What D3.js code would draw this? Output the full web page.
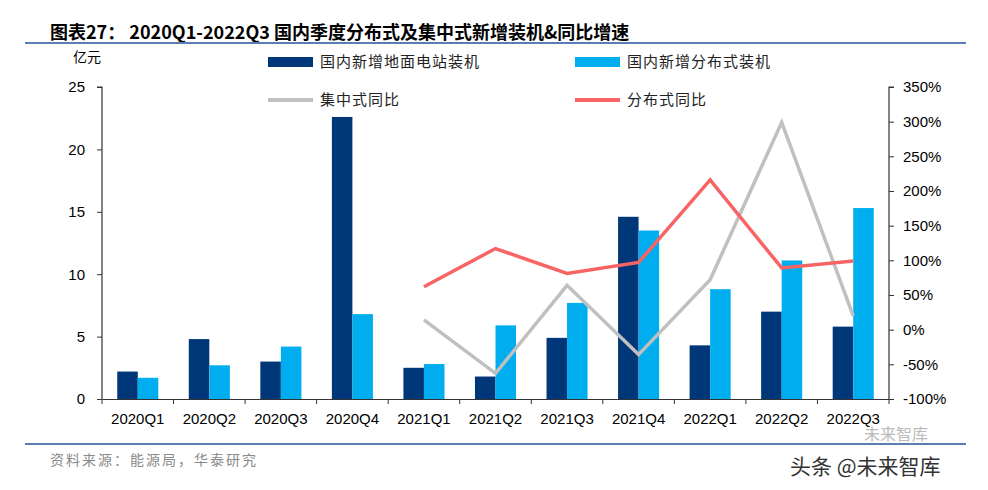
<!DOCTYPE html>
<html>
<head>
<meta charset="utf-8">
<script src="https://cdn.jsdelivr.net/npm/d3@7"></script>
<style>
  body { margin: 0; background: #fff; }
  svg { display: block; }
  text { font-family: "Liberation Sans", Arial, "Noto Sans CJK SC", sans-serif; }
  .cn { font-family: "Noto Sans CJK SC", sans-serif; }
</style>
</head>
<body>
<div id="chart"></div>
<script>
// data
const quarters = ["2020Q1", "2020Q2", "2020Q3", "2020Q4", "2021Q1", "2021Q2",
  "2021Q3", "2021Q4", "2022Q1", "2022Q2", "2022Q3"];
const groundNew = [2.2, 4.8, 3.0, 22.6, 2.5, 1.8, 4.9, 14.6, 4.3, 7.0, 5.8];
const distNew = [1.7, 2.7, 4.2, 6.8, 2.8, 5.9, 7.7, 13.5, 8.8, 11.1, 15.3];
// yoy only from 2021Q1 on
const lineQuarters = ["2021Q1", "2021Q2", "2021Q3", "2021Q4", "2022Q1", "2022Q2", "2022Q3"];
const centralYoy = [14, -63, 64, -36, 72, 299, 20];
const distYoy = [62, 117, 81, 97, 216, 89, 99];
const leftTicks = [0, 5, 10, 15, 20, 25];
const rightTicks = [-100, -50, 0, 50, 100, 150, 200, 250, 300, 350];

const width = 988, height = 490;
const margin = { top: 87, right: 99, bottom: 91, left: 102 };

const svg = d3.select("#chart").append("svg")
  .attr("width", width)
  .attr("height", height);

// title + rules
svg.append("text")
  .attr("x", 50).attr("y", 39)
  .attr("font-size", 18).attr("font-weight", "bold")
  .attr("class", "cn")
  .text("图表27：  2020Q1-2022Q3 国内季度分布式及集中式新增装机&同比增速");
svg.append("line")
  .attr("x1", 25).attr("x2", 966).attr("y1", 43).attr("y2", 43)
  .attr("stroke", "#5b7db1").attr("stroke-width", 2);
svg.append("line")
  .attr("x1", 25).attr("x2", 966).attr("y1", 444).attr("y2", 444)
  .attr("stroke", "#5b7db1").attr("stroke-width", 2);
svg.append("text")
  .attr("x", 50).attr("y", 465)
  .attr("font-size", 14).attr("fill", "#8a8a8a")
  .attr("letter-spacing", 2)
  .attr("class", "cn")
  .text("资料来源：能源局，华泰研究");

const x = d3.scaleBand()
  .domain(quarters)
  .range([margin.left, width - margin.right]);
const y = d3.scaleLinear()
  .domain([0, 25])
  .range([height - margin.bottom, margin.top]);
const y2 = d3.scaleLinear()
  .domain([-100, 350])
  .range([height - margin.bottom, margin.top]);

const barW = x.bandwidth() * 0.287;
const g = svg.append("g");

g.selectAll(".ground")
  .data(groundNew)
  .enter()
  .append("rect")
  .attr("x", (d, i) => x(quarters[i]) + x.bandwidth() / 2 - barW)
  .attr("y", d => y(d))
  .attr("width", barW)
  .attr("height", d => y(0) - y(d))
  .attr("fill", "#003778");

g.selectAll(".dist")
  .data(distNew)
  .enter()
  .append("rect")
  .attr("x", (d, i) => x(quarters[i]) + x.bandwidth() / 2)
  .attr("y", d => y(d))
  .attr("width", barW)
  .attr("height", d => y(0) - y(d))
  .attr("fill", "#00aeef");

const line = d3.line()
  .x((d, i) => x(lineQuarters[i]) + x.bandwidth() / 2)
  .y(d => y2(d));

g.append("path")
  .attr("d", line(centralYoy))
  .attr("fill", "none")
  .attr("stroke", "#c0c0c0")
  .attr("stroke-width", 3.5);
g.append("path")
  .attr("d", line(distYoy))
  .attr("fill", "none")
  .attr("stroke", "#f86464")
  .attr("stroke-width", 3.5);

// axes
const leftAxis = svg.append("g")
  .attr("transform", `translate(${margin.left},0)`)
  .call(d3.axisLeft(y).tickValues(leftTicks).tickSize(5).tickPadding(12));
const rightAxis = svg.append("g")
  .attr("transform", `translate(${width - margin.right},0)`)
  .call(d3.axisRight(y2).tickValues(rightTicks).tickSize(5).tickPadding(9)
    .tickFormat(d => d + "%"));
const bottomAxis = svg.append("g")
  .attr("transform", `translate(0,${height - margin.bottom})`)
  .call(d3.axisBottom(x).tickSize(0).tickPadding(14));

// ticks on band edges
bottomAxis.selectAll(".edge")
  .data(quarters.concat(["end"]))
  .enter()
  .append("line")
  .attr("x1", (d, i) => i < quarters.length ? x(d) : x.range()[1])
  .attr("x2", (d, i) => i < quarters.length ? x(d) : x.range()[1])
  .attr("y1", 0).attr("y2", 5)
  .attr("stroke", "#333");

[leftAxis, rightAxis, bottomAxis].forEach(a => {
  a.selectAll("path").attr("stroke", "#333").attr("stroke-width", 1.2);
  a.selectAll("line").attr("stroke", "#333");
  a.selectAll("text").attr("font-size", 15).attr("fill", "#000")
    .style("font-family", "'Liberation Sans', Arial, sans-serif");
});
leftAxis.select(".domain").attr("d", `M-5,${y(25)}H0V${y(0)}`);
rightAxis.select(".domain").attr("d", `M5,${y2(350)}H0V${y2(-100)}`);

svg.append("text")
  .attr("x", 73).attr("y", 62)
  .attr("font-size", 14).attr("class", "cn")
  .text("亿元");

// legend
const legendItems = [
  { label: "国内新增地面电站装机", color: "#003778", type: "bar", lx: 268, ly: 62 },
  { label: "国内新增分布式装机", color: "#00aeef", type: "bar", lx: 575, ly: 62 },
  { label: "集中式同比", color: "#c0c0c0", type: "line", lx: 268, ly: 100 },
  { label: "分布式同比", color: "#f86464", type: "line", lx: 575, ly: 100 }
];
const legend = svg.append("g");
legendItems.forEach(function (it) {
  if (it.type === "bar") {
    legend.append("rect")
      .attr("x", it.lx).attr("y", it.ly - 5)
      .attr("width", 45).attr("height", 10)
      .attr("fill", it.color);
  } else {
    legend.append("line")
      .attr("x1", it.lx).attr("x2", it.lx + 45)
      .attr("y1", it.ly).attr("y2", it.ly)
      .attr("stroke", it.color).attr("stroke-width", 4);
  }
  legend.append("text")
    .attr("x", it.lx + 52).attr("y", it.ly + 5)
    .attr("font-size", 15).attr("letter-spacing", 1)
    .attr("class", "cn")
    .attr("fill", "#222")
    .text(it.label);
});

// watermark
svg.append("text")
  .attr("x", 864).attr("y", 440)
  .attr("font-size", 16).attr("class", "cn")
  .attr("fill", "#bbb")
  .text("未来智库");
svg.append("text")
  .attr("x", 790).attr("y", 474)
  .attr("font-size", 21).attr("class", "cn")
  .attr("fill", "#333")
  .text("头条 @未来智库");
</script>
</body>
</html>
